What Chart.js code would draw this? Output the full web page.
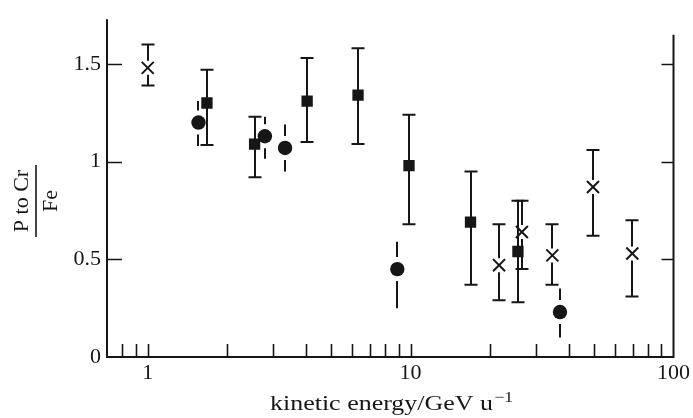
<!DOCTYPE html>
<html>
<head>
<meta charset="utf-8">
<script src="https://cdn.jsdelivr.net/npm/chart.js@4.4.0/dist/chart.umd.min.js"></script>
<style>
  html, body { margin: 0; padding: 0; background: #ffffff; }
  #wrap { width: 693px; height: 418px; }
</style>
</head>
<body>
<div id="wrap"><canvas id="c" width="693" height="418"></canvas></div>
<script>
// P-to-Cr / Fe abundance ratio against kinetic energy per nucleon.
// Three data sets: crosses, squares and circles, each with its error range.
const crossEnergy = [1.0, 21.7, 26.5, 34.6, 49.4, 69.7];
const crossRatio  = [1.48, 0.47, 0.64, 0.52, 0.87, 0.53];
const crossLow    = [1.39, 0.29, 0.45, 0.37, 0.62, 0.31];
const crossHigh   = [1.60, 0.68, 0.80, 0.68, 1.06, 0.70];

const squareEnergy = [1.68, 2.55, 4.04, 6.31, 9.86, 16.9, 25.6];
const squareRatio  = [1.30, 1.09, 1.31, 1.34, 0.98, 0.69, 0.54];
const squareLow    = [1.085, 0.92, 1.10, 1.09, 0.68, 0.37, 0.28];
const squareHigh   = [1.47, 1.23, 1.53, 1.58, 1.24, 0.95, 0.80];

const circleEnergy = [1.56, 2.79, 3.33, 8.9, 37.0];
const circleRatio  = [1.20, 1.13, 1.07, 0.45, 0.23];
const circleLow    = [1.08, 1.015, 0.95, 0.25, 0.10];
const circleHigh   = [1.31, 1.23, 1.19, 0.59, 0.35];

const xTickLabels = [1, 10, 100];
const xMinorTicks = [0.8, 0.9, 1, 2, 3, 4, 5, 6, 7, 8, 9, 10, 20, 30, 40, 50, 60, 70, 80, 90];
const yTickLabels = [0, 0.5, 1, 1.5];

const INK = '#161616';
const SERIF = '"Liberation Serif", "DejaVu Serif", serif';

function points(xs, ys) {
  return xs.map((x, i) => ({ x: x, y: ys[i] }));
}

// Vertical error bars drawn underneath the markers.
const errorBars = {
  id: 'errorBars',
  beforeDatasetsDraw(chart) {
    const ctx = chart.ctx;
    const xs = chart.scales.x, ys = chart.scales.y;
    chart.data.datasets.forEach(ds => {
      const eb = ds.errorBar;
      if (!eb) return;
      ctx.save();
      ctx.strokeStyle = INK;
      ctx.lineWidth = 2;
      ds.data.forEach((p, i) => {
        const px = Math.round(xs.getPixelForValue(p.x));
        const py = ys.getPixelForValue(p.y);
        const top = ys.getPixelForValue(eb.high[i]);
        const bot = ys.getPixelForValue(eb.low[i]);
        ctx.beginPath();
        ctx.moveTo(px, top); ctx.lineTo(px, py - eb.gap);
        ctx.moveTo(px, py + eb.gap); ctx.lineTo(px, bot);
        if (eb.cap) {
          ctx.moveTo(px - eb.cap, top); ctx.lineTo(px + eb.cap, top);
          ctx.moveTo(px - eb.cap, bot); ctx.lineTo(px + eb.cap, bot);
        }
        ctx.stroke();
      });
      ctx.restore();
    });
  }
};

// Open frame (left, bottom, shortened right side) with inward tick marks.
const frame = {
  id: 'frame',
  afterDatasetsDraw(chart) {
    const ctx = chart.ctx;
    const a = chart.chartArea;
    const xs = chart.scales.x, ys = chart.scales.y;
    ctx.save();
    ctx.strokeStyle = INK;
    ctx.lineWidth = 2;
    ctx.beginPath();
    ctx.moveTo(a.left, a.top);
    ctx.lineTo(a.left, a.bottom);
    ctx.lineTo(a.right, a.bottom);
    ctx.lineTo(a.right, ys.getPixelForValue(1.65));
    ctx.stroke();

    ctx.lineWidth = 1.6;
    ctx.beginPath();
    xMinorTicks.forEach(v => {
      const px = Math.round(xs.getPixelForValue(v)) + 0.5;
      ctx.moveTo(px, a.bottom);
      ctx.lineTo(px, a.bottom - 13);
    });
    yTickLabels.forEach(v => {
      if (v === 0) return;
      const py = Math.round(ys.getPixelForValue(v)) + 0.5;
      ctx.moveTo(a.left, py); ctx.lineTo(a.left + 15, py);
      ctx.moveTo(a.right, py); ctx.lineTo(a.right - 12, py);
    });
    ctx.stroke();
    ctx.restore();
  }
};

// Axis titles: a stacked fraction on the left and the energy unit below.
const axisTitles = {
  id: 'axisTitles',
  afterDraw(chart) {
    const ctx = chart.ctx;
    ctx.save();
    ctx.fillStyle = INK;
    ctx.strokeStyle = INK;

    // y title: (P to Cr) / Fe, rotated
    ctx.translate(36, 201);
    ctx.rotate(-Math.PI / 2);
    ctx.font = '22px ' + SERIF;
    ctx.textAlign = 'center';
    ctx.textBaseline = 'alphabetic';
    ctx.fillText('P to Cr', 0, -8);
    ctx.fillText('Fe', 0, 21);
    ctx.lineWidth = 1.6;
    ctx.beginPath();
    ctx.moveTo(-36, 0); ctx.lineTo(36, 0);
    ctx.stroke();
    ctx.setTransform(1, 0, 0, 1, 0, 0);

    // x title with superscript, set in a wide serif
    const main = 'kinetic energy/GeV u';
    const sup = '\u22121';
    ctx.font = '22px ' + SERIF;
    const wMain = ctx.measureText(main).width;
    ctx.font = '15px ' + SERIF;
    const wSup = ctx.measureText(sup).width;
    const natural = wMain + wSup + 1;
    const target = 243;
    const k = target / natural;
    ctx.translate(270, 410);
    ctx.scale(k, 1);
    ctx.textAlign = 'left';
    ctx.font = '22px ' + SERIF;
    ctx.fillText(main, 0, 0);
    ctx.font = '15px ' + SERIF;
    ctx.fillText(sup, wMain + 1, -8);
    ctx.restore();
  }
};

new Chart(document.getElementById('c'), {
  type: 'scatter',
  data: {
    datasets: [
      {
        label: 'crosses',
        data: points(crossEnergy, crossRatio),
        pointStyle: 'crossRot',
        pointRadius: 8.5,
        borderColor: INK,
        borderWidth: 2,
        backgroundColor: INK,
        errorBar: { low: crossLow, high: crossHigh, cap: 6.5, gap: 7 }
      },
      {
        label: 'squares',
        data: points(squareEnergy, squareRatio),
        pointStyle: 'rect',
        pointRadius: 8,
        borderWidth: 0,
        backgroundColor: INK,
        errorBar: { low: squareLow, high: squareHigh, cap: 6.5, gap: 0 }
      },
      {
        label: 'circles',
        data: points(circleEnergy, circleRatio),
        pointStyle: 'circle',
        pointRadius: 7.2,
        borderWidth: 0,
        backgroundColor: INK,
        errorBar: { low: circleLow, high: circleHigh, cap: 0, gap: 12 }
      }
    ]
  },
  options: {
    responsive: false,
    animation: false,
    events: [],
    layout: { padding: { top: 13, right: 19, left: 0, bottom: 0 } },
    plugins: { legend: { display: false }, tooltip: { enabled: false } },
    scales: {
      x: {
        type: 'logarithmic',
        min: 0.711,
        max: 100,
        grid: { display: false, drawTicks: false },
        border: { display: false },
        afterBuildTicks: s => { s.ticks = xTickLabels.map(v => ({ value: v })); },
        afterFit: s => { s.height = 61; },
        ticks: {
          autoSkip: false,
          maxRotation: 0,
          padding: 3,
          color: INK,
          font: { family: SERIF, size: 22 },
          callback: v => String(v)
        }
      },
      y: {
        min: 0,
        max: 1.729,
        grid: { display: false, drawTicks: false },
        border: { display: false },
        afterBuildTicks: s => { s.ticks = yTickLabels.map(v => ({ value: v })); },
        afterFit: s => { s.width = 107; },
        ticks: {
          padding: 6,
          color: INK,
          font: { family: SERIF, size: 22 },
          callback: v => String(v)
        }
      }
    }
  },
  plugins: [errorBars, frame, axisTitles]
});
</script>
</body>
</html>
